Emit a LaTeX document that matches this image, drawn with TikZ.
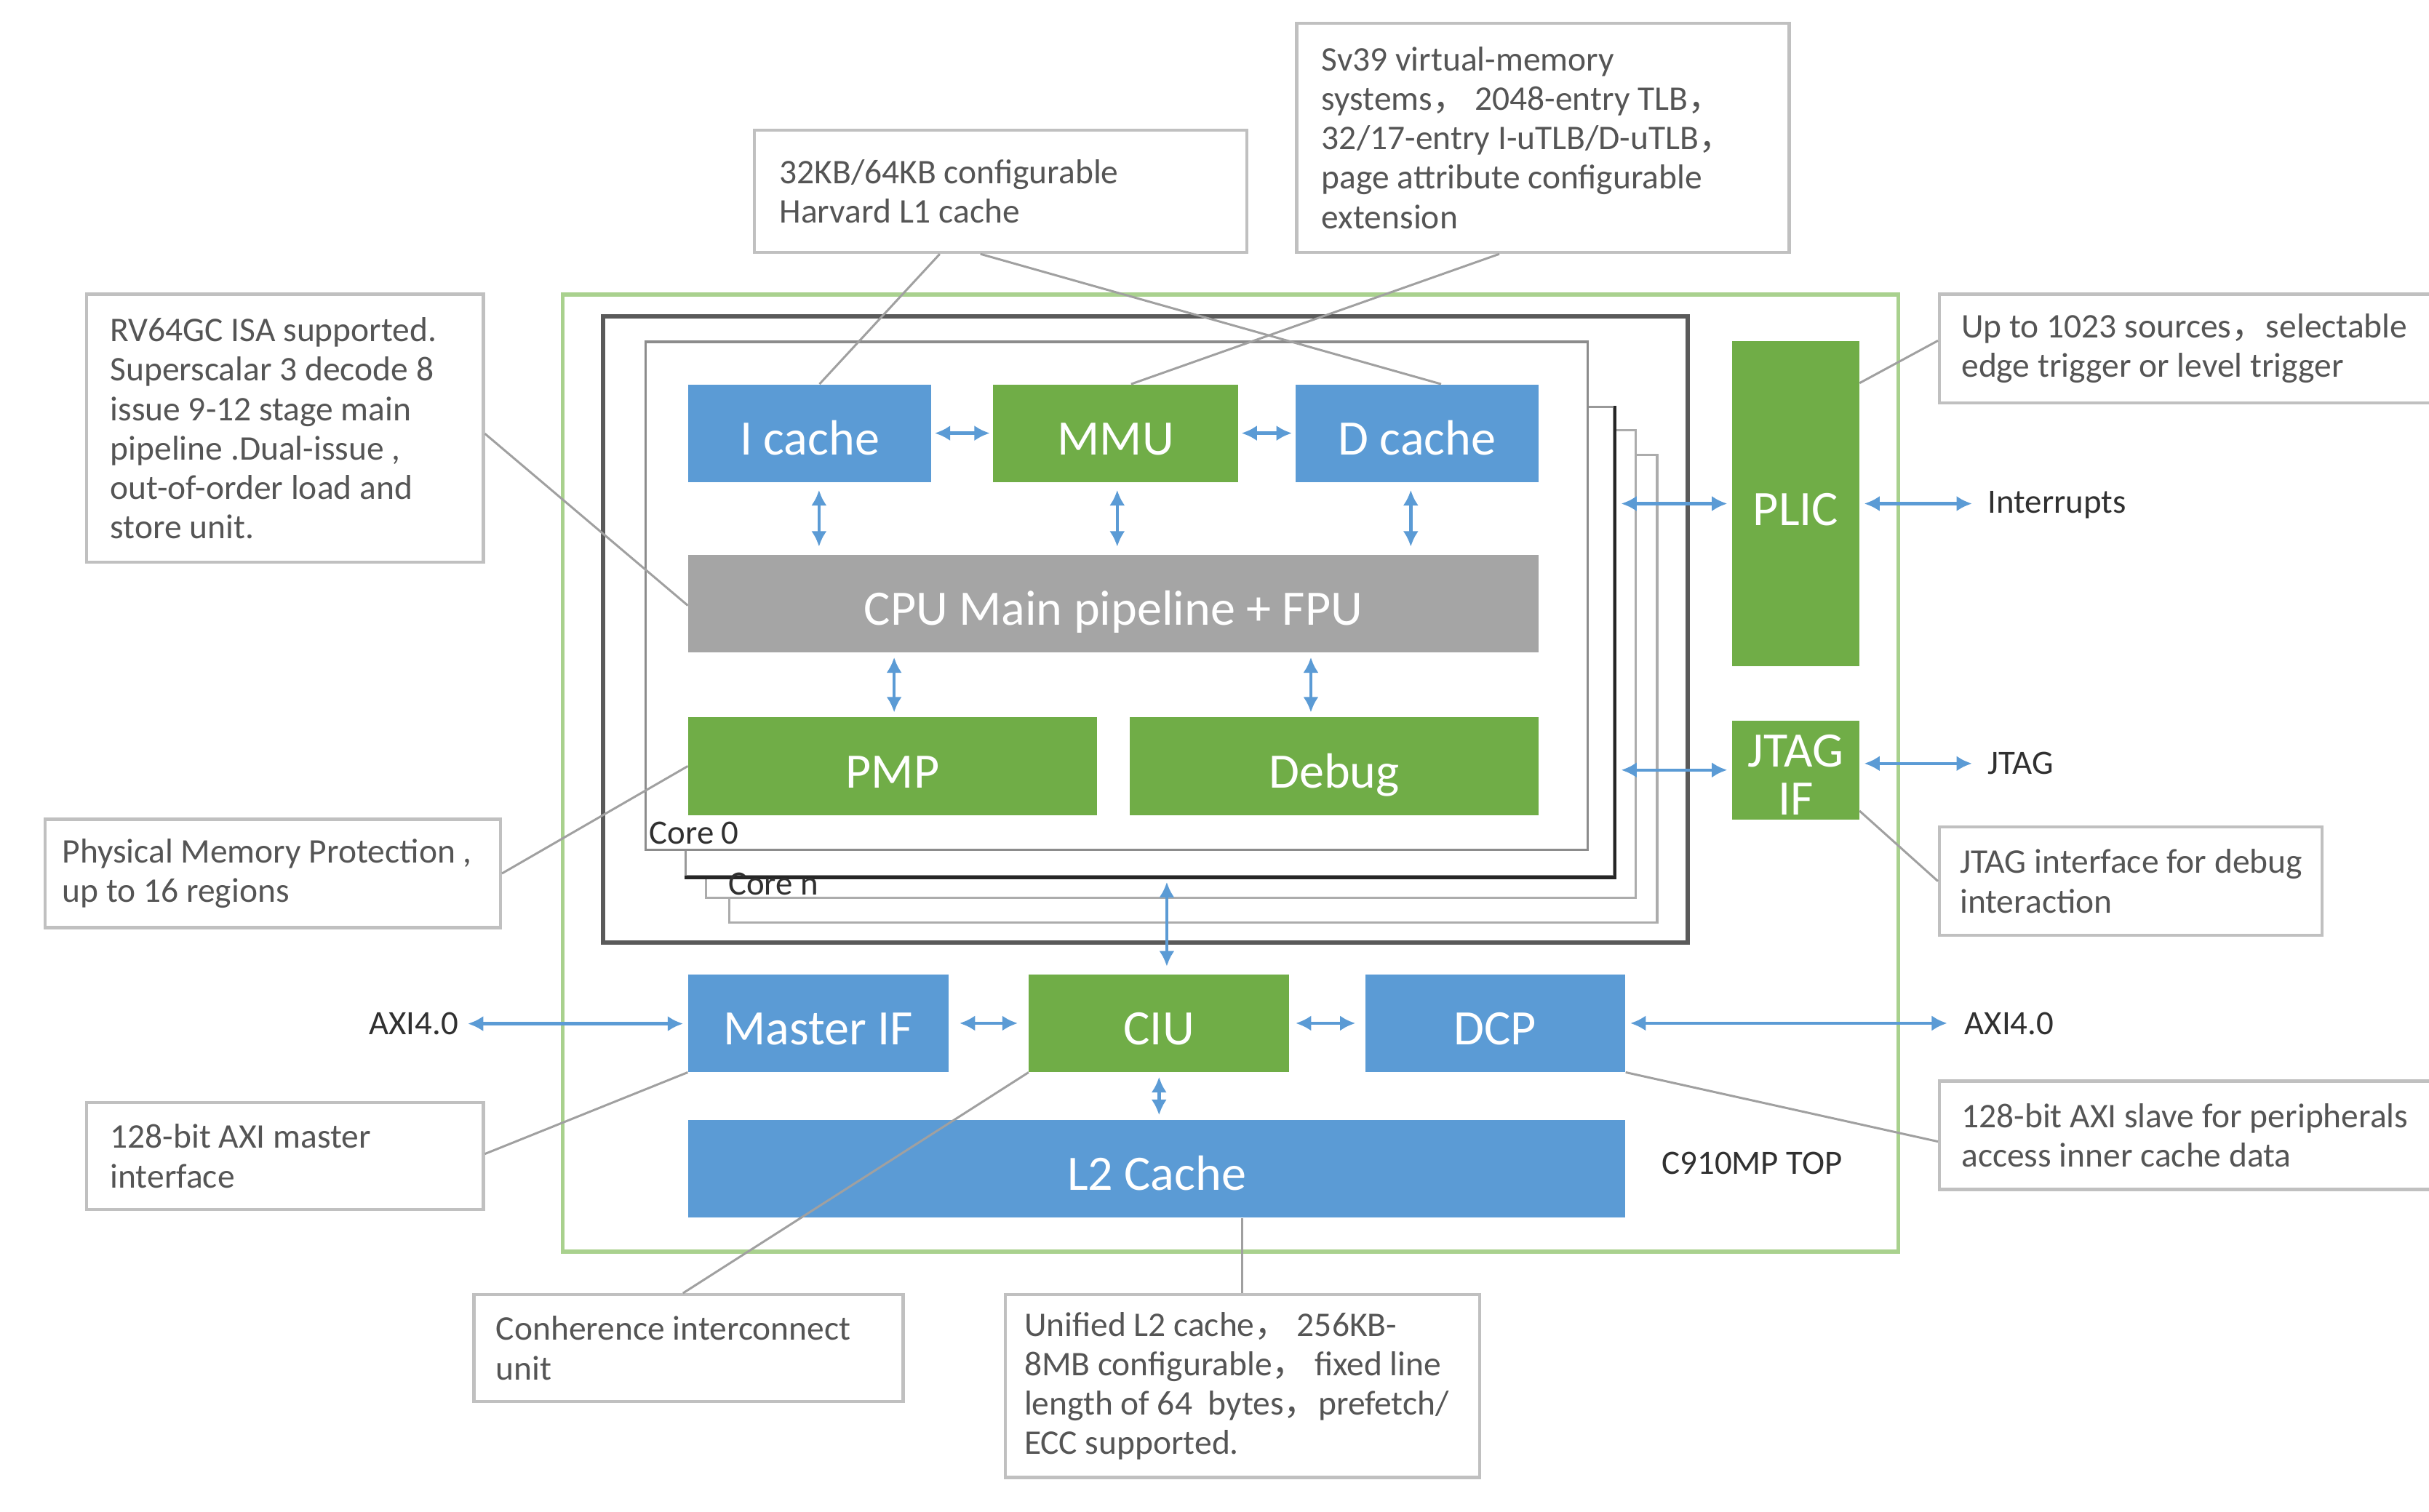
\documentclass[tikz,border=0pt]{standalone}
\usepackage{fontspec}
\setmainfont{Carlito}
\newfontfamily\cjk{Noto Sans CJK SC}
\usetikzlibrary{arrows.meta,calc}
\definecolor{cblue}{HTML}{5B9BD5}
\definecolor{cgreen}{HTML}{70AD47}
\definecolor{cgray}{HTML}{A5A5A5}
\definecolor{notebd}{HTML}{C0C0C0}
\definecolor{notetx}{HTML}{555555}
\definecolor{lbltx}{HTML}{303030}
\definecolor{clgray}{HTML}{A0A0A0}
\definecolor{topgreen}{HTML}{A9D18E}
\definecolor{darkbd}{HTML}{5A5A5A}
\newcommand{\fc}{{\cjk ，}}
\tikzset{
  blk/.style={rectangle, inner sep=0pt, text=white, anchor=north west,
    font=\fontsize{32}{31}\selectfont, text height=28pt, text depth=0pt},
  blkbox/.style={rectangle, inner sep=0pt, anchor=north west},
  blktext/.style={inner sep=0pt, text=white, align=center,
    font=\fontsize{32}{31}\selectfont},
  notebox/.style={rectangle, draw=notebd, line width=2pt, fill=white, inner sep=0pt, anchor=north west},
  notetext/.style={inner sep=0pt, align=left, text=notetx, anchor=west,
    font=\fontsize{22.3}{25.4}\selectfont},
  lbl/.style={inner sep=0pt, text=lbltx, font=\fontsize{22}{26}\selectfont},
  layer/.style={rectangle, fill=white, inner sep=0pt, anchor=north west},
  bi/.style={draw=cblue, line width=2.1pt,
    arrows={Latex[length=10pt,width=10pt]-Latex[length=10pt,width=10pt]}},
  cl/.style={draw=clgray, line width=1.4pt},
}
\begin{document}
\begin{tikzpicture}[x=1pt,y=-1pt]
\useasboundingbox (0,0) rectangle (1568,976);
\fill[white] (0,0) rectangle (1568,976);

% outer frames
\node[layer, draw=topgreen, line width=2.5pt, minimum width=862pt, minimum height=618pt] (top) at (362,189) {};
\node[layer, draw=darkbd, line width=2.8pt, minimum width=700pt, minimum height=404pt] (cores) at (388,203) {};

% stacked cores
\node[layer, draw=gray!65, line width=1.5pt, minimum width=599pt, minimum height=302pt] (c4) at (470,293) {};
\node[layer, draw=gray!65, line width=1.5pt, minimum width=600pt, minimum height=302pt] (c3) at (455,277) {};
\node[layer, draw=gray!80, line width=1.5pt, minimum width=599pt, minimum height=303pt] (c2) at (442,262) {};
\draw[gray!30!black, line width=2.2pt] (c2.south west) -- (c2.south east) -- (c2.north east);
\node[layer, draw=gray!90, line width=1.6pt, minimum width=608pt, minimum height=328pt] (c0) at (416,220) {};
\node[lbl, anchor=base west] (core0lbl) at (419,545) {Core 0};
\node[lbl, anchor=base west] (corenlbl) at (470,578) {Core n};

% blocks
\node[blk, fill=cblue, minimum width=157pt, minimum height=63pt] (ic) at (444,248) {I cache};
\node[blk, fill=cgreen, minimum width=158pt, minimum height=63pt] (mmu) at (641,248) {MMU};
\node[blk, fill=cblue, minimum width=157pt, minimum height=63pt] (dc) at (836,248) {D cache};
\node[blk, fill=cgray, minimum width=549pt, minimum height=63pt] (cpu) at (444,358) {CPU Main pipeline + FPU};
\node[blk, fill=cgreen, minimum width=264pt, minimum height=63pt] (pmp) at (444,463) {PMP};
\node[blk, fill=cgreen, minimum width=264pt, minimum height=63pt] (dbg) at (729,463) {Debug};
\node[blk, fill=cgreen, minimum width=82pt, minimum height=210pt] (plic) at (1118,220) {PLIC};
\node[blkbox, fill=cgreen, minimum width=82pt, minimum height=64pt] (jtag) at (1118,465) {};
\node[blktext] (jtagt) at ([yshift=-3pt]jtag.center) {JTAG\\IF};
\node[blk, fill=cblue, minimum width=168pt, minimum height=63pt] (mif) at (444,629) {Master IF};
\node[blk, fill=cgreen, minimum width=168pt, minimum height=63pt] (ciu) at (664,629) {CIU};
\node[blk, fill=cblue, minimum width=168pt, minimum height=63pt] (dcp) at (881,629) {DCP};
\node[blk, fill=cblue, minimum width=605pt, minimum height=63pt] (l2) at (444,723) {L2 Cache};

% external labels
\node[lbl, anchor=west] (intr) at (1283,326) {Interrupts};
\node[lbl, anchor=west] (jlbl) at (1283,493) {JTAG};
\node[lbl, anchor=east] (axil) at (296,661) {AXI4.0};
\node[lbl, anchor=west] (axir) at (1268,661) {AXI4.0};
\node[lbl] (toplbl) at (1131,751) {C910MP TOP};

% arrows
\draw[bi, shorten <=2pt, shorten >=2pt] (ic.east) -- (mmu.west);
\draw[bi, shorten <=2pt, shorten >=2pt] (mmu.east) -- (dc.west);
\draw[bi, shorten <=5pt, shorten >=5pt] ([xshift=6pt]ic.south) -- ([xshift=6pt]ic.south |- cpu.north);
\draw[bi, shorten <=5pt, shorten >=5pt] ([xshift=1pt]mmu.south) -- ([xshift=1pt]mmu.south |- cpu.north);
\draw[bi, shorten <=5pt, shorten >=5pt] ([xshift=-4pt]dc.south) -- ([xshift=-4pt]dc.south |- cpu.north);
\draw[bi, shorten <=3pt, shorten >=3pt] ([xshift=1pt]pmp.north) -- ([xshift=1pt]pmp.north |- cpu.south);
\draw[bi, shorten <=3pt, shorten >=3pt] ([xshift=-15pt]dbg.north) -- ([xshift=-15pt]dbg.north |- cpu.south);
\draw[bi, shorten >=3pt] ($(c2.east |- plic.west)+(4,0)$) -- (plic.west);
\draw[bi, shorten >=3pt] ($(c2.east |- jtag.west)+(4,0)$) -- (jtag.west);
\draw[bi, shorten <=3pt, shorten >=10pt] (plic.east) -- (plic.east -| intr.west);
\draw[bi, shorten <=3pt, shorten >=10pt] (jtag.east |- jlbl.west) -- (jlbl.west);
\draw[bi, shorten <=3pt, shorten >=5pt] ([xshift=5pt]ciu.north |- c2.south) -- ([xshift=5pt]ciu.north);
\draw[bi, shorten <=6pt, shorten >=3pt] (axil.east) -- (axil.east -| mif.west);
\draw[bi, shorten <=7pt, shorten >=7pt] (mif.east) -- (ciu.west);
\draw[bi, shorten <=4pt, shorten >=6pt] (ciu.east) -- (dcp.west);
\draw[bi, shorten <=3pt, shorten >=11pt] (dcp.east) -- (dcp.east -| axir.west);
\draw[bi, shorten <=3pt, shorten >=3pt] (ciu.south) -- (ciu.south |- l2.north);

% notes
\node[notebox, minimum width=318pt, minimum height=79pt] (nL1) at (486,83) {};
\node[notetext] (nL1t) at ([xshift=17pt]nL1.west) {32KB/64KB configurable\\Harvard L1 cache};
\node[notebox, minimum width=318pt, minimum height=148pt] (nMMU) at (836,14) {};
\node[notetext] (nMMUt) at ([xshift=17pt]nMMU.west) {Sv39 virtual-memory\\systems\fc\ 2048-entry TLB\fc\\32/17-entry I-uTLB/D-uTLB\fc\\page attribute configurable\\extension};
\node[notebox, minimum width=256pt, minimum height=173pt] (nRV) at (55,189) {};
\node[notetext] (nRVt) at ([xshift=16pt]nRV.west) {RV64GC ISA supported.\\Superscalar 3 decode 8\\issue 9-12 stage main\\pipeline .Dual-issue ,\\out-of-order load and\\store unit.};
\node[notebox, minimum width=294pt, minimum height=70pt] (nPMP) at (28,528) {};
\node[notetext] (nPMPt) at ([xshift=12pt]nPMP.west) {Physical Memory Protection ,\\up to 16 regions};
\node[notebox, minimum width=256pt, minimum height=69pt] (nAXM) at (55,711) {};
\node[notetext] (nAXMt) at ([xshift=16pt]nAXM.west) {128-bit AXI master\\interface};
\node[notebox, minimum width=277pt, minimum height=69pt] (nCIU) at (305,835) {};
\node[notetext] (nCIUt) at ([xshift=15pt]nCIU.west) {Conherence interconnect\\unit};
\node[notebox, minimum width=306pt, minimum height=118pt] (nL2) at (648,835) {};
\node[notetext] (nL2t) at ([xshift=13pt]nL2.west) {Unified L2 cache\fc\ 256KB-\\8MB configurable\fc\ fixed line\\length of 64\ \ bytes\fc prefetch/\\ECC supported.};
\node[notebox, minimum width=340pt, minimum height=70pt] (nPLIC) at (1251,189) {};
\node[notetext] (nPLICt) at ([xshift=15pt]nPLIC.west) {Up to 1023 sources\fc selectable\\edge trigger or level trigger};
\node[notebox, minimum width=247pt, minimum height=70pt] (nJT) at (1251,533) {};
\node[notetext] (nJTt) at ([xshift=14pt]nJT.west) {JTAG interface for debug\\interaction};
\node[notebox, minimum width=340pt, minimum height=70pt] (nAXS) at (1251,697) {};
\node[notetext] (nAXSt) at ([xshift=15pt]nAXS.west) {128-bit AXI slave for peripherals\\access inner cache data};

% callout lines
\draw[cl] ($(nL1.south west)!0.377!(nL1.south east)$) -- ($(ic.north west)!0.54!(ic.north east)$);
\draw[cl] ($(nL1.south west)!0.459!(nL1.south east)$) -- ($(dc.north west)!0.599!(dc.north east)$);
\draw[cl] ($(nMMU.south west)!0.412!(nMMU.south east)$) -- ($(mmu.north west)!0.563!(mmu.north east)$);
\draw[cl] ($(nRV.north east)!0.52!(nRV.south east)$) -- ($(cpu.north west)!0.52!(cpu.south west)$);
\draw[cl] (nPMP.east) -- (pmp.west);
\draw[cl] ($(nAXM.north east)!0.48!(nAXM.south east)$) -- (mif.south west);
\draw[cl] ($(nCIU.north west)!0.487!(nCIU.north east)$) -- (ciu.south west);
\draw[cl] (nL2.north) -- (nL2.north |- l2.south);
\draw[cl] ($(nPLIC.north west)!0.43!(nPLIC.south west)$) -- ($(plic.north east)!0.13!(plic.south east)$);
\draw[cl] (nJT.west) -- ($(jtag.north east)!0.91!(jtag.south east)$);
\draw[cl] ($(nAXS.north west)!0.557!(nAXS.south west)$) -- (dcp.south east);
\end{tikzpicture}
\end{document}
